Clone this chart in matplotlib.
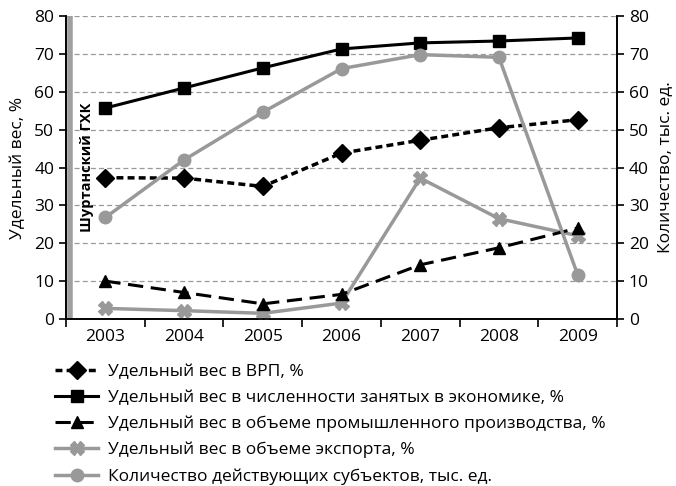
import numpy as np
import matplotlib
matplotlib.use("Agg")
import matplotlib.pyplot as plt

plt.rcParams['font.family'] = ['Open Sans', 'DejaVu Sans']

years = ['2003', '2004', '2005', '2006', '2007', '2008', '2009']
vrp = [37.3, 37.2, 35.0, 43.8, 47.2, 50.5, 52.6]
employed = [55.7, 61.0, 66.3, 71.3, 72.9, 73.4, 74.2]
industry = [10.0, 7.0, 4.0, 6.5, 14.3, 18.8, 24.0]
export = [2.8, 2.2, 1.5, 4.2, 37.2, 26.5, 22.0]
subjects = [26.8, 42.0, 54.6, 66.1, 69.8, 69.1, 11.7]

labels = ['Удельный вес в ВРП, %',
          'Удельный вес в численности занятых в экономике, %',
          'Удельный вес в объеме промышленного производства, %',
          'Удельный вес в объеме экспорта, %',
          'Количество действующих субъектов, тыс. ед.']

gray = '#999999'
fs = 12.5

fig = plt.figure(figsize=(6.76, 4.86), dpi=100)
ax = fig.add_axes([66/676, 1 - 319/486, (617 - 66)/676, (319 - 16)/486])
ax2 = ax.twinx()

x = np.arange(len(years))

# grid
for v in range(10, 90, 10):
    ax.axhline(v, color='#999999', lw=0.9, ls=(0, (4, 2.5)), zorder=0)

l1, = ax.plot(x, vrp, color='black', lw=2.5, ls=(0, (2, 1.2)), marker='D', ms=9, zorder=4)
l2, = ax.plot(x, employed, color='black', lw=2.2, marker='s', ms=9, zorder=4)
l3, = ax.plot(x, industry, color='black', lw=2.2, ls=(0, (5, 2.5)), marker='^', ms=9, zorder=4)
l4, = ax.plot(x, export, color=gray, lw=2.5, marker='X', ms=10, zorder=3)
l5, = ax2.plot(x, subjects, color=gray, lw=2.5, marker='o', ms=9, zorder=3)

# marker line for Шуртанский ГХК
ax.axvline(-0.45, color='#a0a0a0', lw=4, zorder=2)
ax.text(-0.23, 40, 'Шуртанский ГХК', rotation=90, ha='center', va='center',
        fontsize=10.5, fontweight='bold')

for a in (ax, ax2):
    a.set_xlim(-0.5, 6.5)
    a.set_ylim(0, 80)
    a.set_yticks(range(0, 90, 10))
    a.tick_params(axis='y', labelsize=fs, length=5, width=1.2, direction='out')
    a.spines['top'].set_visible(False)
    for s in ('left', 'right', 'bottom'):
        a.spines[s].set_linewidth(1.2)

ax.set_xticks(np.arange(-0.5, 7, 1))
ax.set_xticklabels([])
ax.set_xticks(x, minor=True)
ax.set_xticklabels(years, minor=True, fontsize=fs)
ax.tick_params(axis='x', which='major', length=6, width=1.2, direction='out')
ax.tick_params(axis='x', which='minor', length=0, pad=7)

ax.set_ylabel('Удельный вес, %', fontsize=fs, labelpad=6)
ax2.set_ylabel('Количество, тыс. ед.', fontsize=fs, labelpad=6)

fig.legend([l1, l2, l3, l4, l5], labels, loc='upper left',
           bbox_to_anchor=(55/676, 1 - 364/486), frameon=False,
           fontsize=fs, handlelength=2.5, labelspacing=0.56, handletextpad=0.55,
           borderaxespad=0, borderpad=0)

fig.savefig('out.png', dpi=100)
